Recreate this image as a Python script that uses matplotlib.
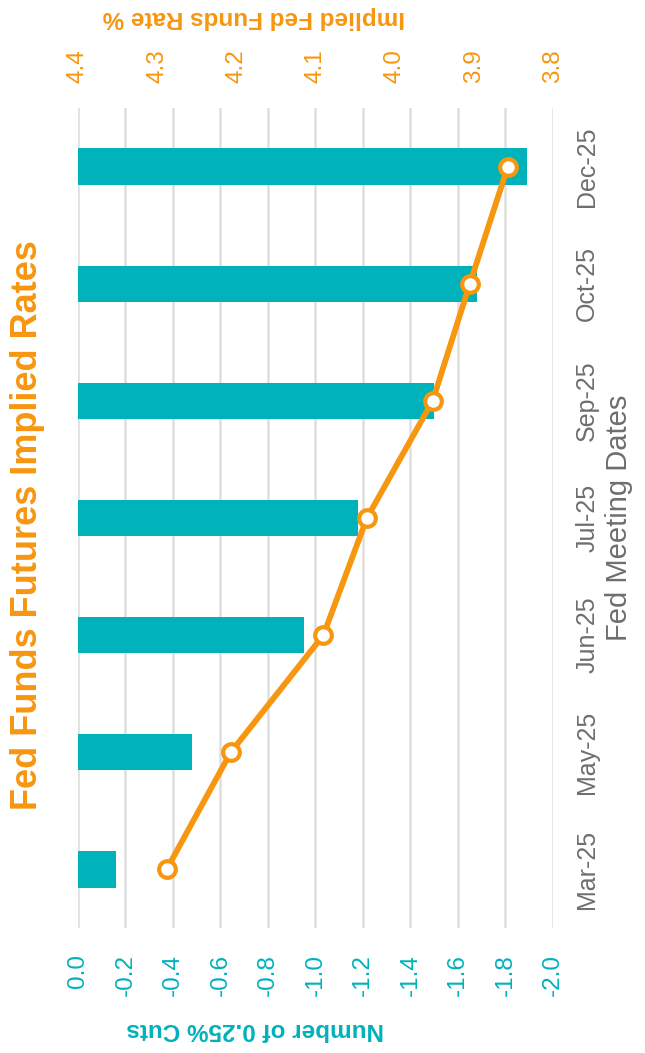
import matplotlib
matplotlib.use("Agg")
import matplotlib.pyplot as plt

# data
meetings = ["Mar-25", "May-25", "Jun-25", "Jul-25", "Sep-25", "Oct-25", "Dec-25"]
cuts = [-0.16, -0.48, -0.95, -1.18, -1.50, -1.68, -1.89]
implied_rate = [4.288, 4.207, 4.090, 4.035, 3.952, 3.905, 3.857]
cut_ticks = [0.0, -0.2, -0.4, -0.6, -0.8, -1.0, -1.2, -1.4, -1.6, -1.8, -2.0]
rate_ticks = [4.4, 4.3, 4.2, 4.1, 4.0, 3.9, 3.8]

TEAL = "#00B2BA"
ORANGE = "#F7960F"
GREY = "#6D6E71"
GRID = "#DEDEDE"

plt.rcParams["font.family"] = ["Liberation Sans", "DejaVu Sans"]

fig = plt.figure(figsize=(6.45, 10.53), dpi=100)
ax = fig.add_axes([0.1209, 0.1187, 0.7364, 0.7787])

pos = list(range(len(meetings)))
ax.barh(pos, cuts, height=0.31, color=TEAL, zorder=2)
ax.set_xlim(0, -2.0)
ax.set_ylim(-0.5, len(meetings) - 0.5)
ax.set_xticks(cut_ticks)
ax.set_xticklabels([f"{v:.1f}" for v in cut_ticks], rotation=90, color=TEAL, fontsize=17.5)
ax.tick_params(axis="x", length=0, pad=19)
ax.grid(axis="x", color=GRID, linewidth=1.8, zorder=0)
ax.set_axisbelow(True)

ax.yaxis.tick_right()
ax.set_yticks(pos)
ax.set_yticklabels(meetings, rotation=90, va="center", color=GREY, fontsize=18)
ax.tick_params(axis="y", length=0, pad=16)
ax.yaxis.set_label_position("right")
ax.set_ylabel("Fed Meeting Dates", rotation=90, color=GREY, fontsize=21, labelpad=4)

for s in ax.spines.values():
    s.set_visible(False)

ax2 = ax.twiny()
ax2.plot(implied_rate, pos, color=ORANGE, linewidth=4.2, marker="o", markersize=12,
         markerfacecolor="white", markeredgecolor=ORANGE, markeredgewidth=3, zorder=3)
ax2.set_xlim(4.4, 3.8)
ax2.set_ylim(-0.5, len(meetings) - 0.5)
ax2.set_xticks(rate_ticks)
ax2.set_xticklabels([f"{v:.1f}" for v in rate_ticks], rotation=90, color=ORANGE, fontsize=17.5)
ax2.tick_params(axis="x", length=0, pad=18)
for s in ax2.spines.values():
    s.set_visible(False)

# axis titles, upside down as in the reference
fig.text(255 / 645, 1 - 1029 / 1053, "Number of 0.25% Cuts", rotation=180,
         ha="center", va="center", color=TEAL, fontsize=17.5, fontweight="bold")
fig.text(254 / 645, 1 - 17 / 1053, "Implied Fed Funds Rate %", rotation=180,
         ha="center", va="center", color=ORANGE, fontsize=17.5, fontweight="bold")

fig.text(28 / 645, 1 - 525 / 1053, "Fed Funds Futures Implied Rates", rotation=90,
         ha="center", va="center", color=ORANGE, fontsize=26, fontweight="bold")

fig.savefig("out.png", dpi=100)
